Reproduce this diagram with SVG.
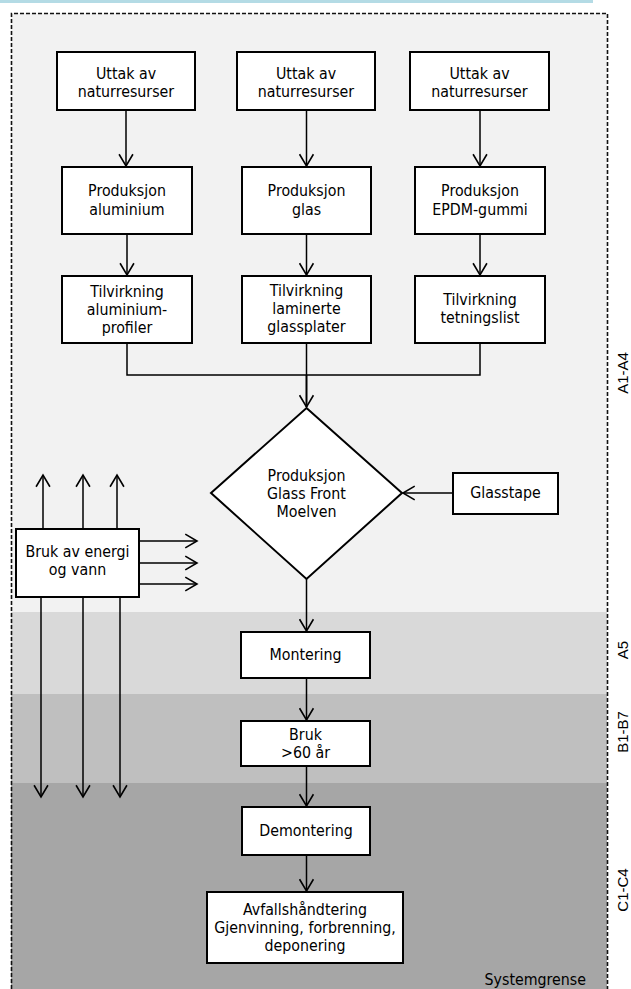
<svg xmlns="http://www.w3.org/2000/svg" width="631" height="989" viewBox="0 0 631 989">
<style>
.box{fill:#fff;stroke:#000;stroke-width:2}
.t{font-family:"DejaVu Sans Condensed","DejaVu Sans",sans-serif;font-stretch:condensed;font-size:15.8px;fill:#000;text-anchor:middle}
.lbl{font-family:"Liberation Sans",Arial,sans-serif;font-size:15px;fill:#000;text-anchor:middle}
.ln{fill:none;stroke:#000;stroke-width:1.5}
.ar{marker-end:url(#ah)}
</style>
<defs>
<marker id="ah" markerUnits="userSpaceOnUse" markerWidth="16" markerHeight="16" viewBox="-1 -1 14 15" refX="11" refY="6.5" orient="auto">
<path d="M0,0 L11,6.5 L0,13" fill="none" stroke="#000" stroke-width="1.5"/>
</marker>
</defs>
<g id="background">
<rect x="0" y="0" width="593" height="3" fill="#b4dbe5"/>
<rect x="11" y="13" width="596" height="599" fill="#f2f2f2"/>
<rect x="11" y="612" width="596" height="82" fill="#d9d9d9"/>
<rect x="11" y="694" width="596" height="89" fill="#bfbfbf"/>
<rect x="11" y="783" width="596" height="206" fill="#a6a6a6"/>
<path d="M11.5,989 V13.5 H607.5 V989" fill="none" stroke="#111" stroke-width="1.6" stroke-dasharray="4 2"/>
<text class="t" x="586" y="985" style="text-anchor:end">Systemgrense</text>
<text class="lbl" transform="translate(628,373) rotate(-90)">A1-A4</text>
<text class="lbl" transform="translate(628,650) rotate(-90)">A5</text>
<text class="lbl" transform="translate(628,732) rotate(-90)">B1-B7</text>
<text class="lbl" transform="translate(628,890) rotate(-90)">C1-C4</text>
</g>
<g id="connectors">
<line class="ln ar" x1="126" y1="110" x2="126" y2="166"/>
<line class="ln ar" x1="306.5" y1="110" x2="306.5" y2="166"/>
<line class="ln ar" x1="480" y1="110" x2="480" y2="166"/>
<line class="ln ar" x1="127" y1="234" x2="127" y2="275"/>
<line class="ln ar" x1="306.5" y1="234" x2="306.5" y2="275"/>
<line class="ln ar" x1="480" y1="234" x2="480" y2="275"/>
<path class="ln" d="M127,343 V375 H480 V343"/>
<line class="ln" x1="306.5" y1="343" x2="306.5" y2="375"/>
<line class="ar" x1="306.5" y1="375" x2="306.5" y2="407" stroke="#000" stroke-width="2"/>
<line class="ln ar" x1="453" y1="493" x2="403" y2="493"/>
<line class="ln ar" x1="306.5" y1="579" x2="306.5" y2="631"/>
<line class="ln ar" x1="306.5" y1="678" x2="306.5" y2="720"/>
<line class="ln ar" x1="306.5" y1="766" x2="306.5" y2="806"/>
<line class="ln ar" x1="306.5" y1="855" x2="306.5" y2="891"/>
<line class="ln ar" x1="43" y1="529" x2="43" y2="475"/>
<line class="ln ar" x1="83" y1="529" x2="83" y2="475"/>
<line class="ln ar" x1="117" y1="529" x2="117" y2="475"/>
<line class="ln ar" x1="139" y1="541" x2="197" y2="541"/>
<line class="ln ar" x1="139" y1="563" x2="197" y2="563"/>
<line class="ln ar" x1="139" y1="584" x2="197" y2="584"/>
<line class="ln ar" x1="41" y1="597" x2="41" y2="797"/>
<line class="ln ar" x1="83" y1="597" x2="83" y2="797"/>
<line class="ln ar" x1="120" y1="597" x2="120" y2="797"/>
</g>
<g id="uttak1"><rect class="box" x="57" y="52" width="138" height="58"/><text class="t" x="126" y="78.5">Uttak av</text><text class="t" x="126" y="96.5">naturresurser</text></g>
<g id="uttak2"><rect class="box" x="237" y="52" width="138" height="58"/><text class="t" x="306" y="78.5">Uttak av</text><text class="t" x="306" y="96.5">naturresurser</text></g>
<g id="uttak3"><rect class="box" x="410" y="52" width="139" height="58"/><text class="t" x="479.5" y="78.5">Uttak av</text><text class="t" x="479.5" y="96.5">naturresurser</text></g>
<g id="prod-alu"><rect class="box" x="62" y="167" width="130" height="67"/><text class="t" x="127" y="196">Produksjon</text><text class="t" x="127" y="214.5">aluminium</text></g>
<g id="prod-glas"><rect class="box" x="242" y="167" width="129" height="67"/><text class="t" x="306.5" y="196">Produksjon</text><text class="t" x="306.5" y="214.5">glas</text></g>
<g id="prod-epdm"><rect class="box" x="415" y="167" width="130" height="67"/><text class="t" x="480" y="196">Produksjon</text><text class="t" x="480" y="214.5">EPDM-gummi</text></g>
<g id="tilv-alu"><rect class="box" x="62" y="276" width="130" height="67"/><text class="t" x="127" y="297">Tilvirkning</text><text class="t" x="127" y="315">aluminium-</text><text class="t" x="127" y="333">profiler</text></g>
<g id="tilv-glas"><rect class="box" x="242" y="276" width="129" height="67"/><text class="t" x="306.5" y="296">Tilvirkning</text><text class="t" x="306.5" y="314">laminerte</text><text class="t" x="306.5" y="332">glassplater</text></g>
<g id="tilv-list"><rect class="box" x="415" y="276" width="130" height="67"/><text class="t" x="480" y="304.5">Tilvirkning</text><text class="t" x="480" y="322.5">tetningslist</text></g>
<g id="produksjon-gfm"><polygon class="box" points="306.5,408 402,493 306.5,579 211,493"/><text class="t" x="306.5" y="480.5">Produksjon</text><text class="t" x="306.5" y="498.5">Glass Front</text><text class="t" x="306.5" y="516.5">Moelven</text></g>
<g id="glasstape"><rect class="box" x="453" y="473" width="105" height="41"/><text class="t" x="505.5" y="498">Glasstape</text></g>
<g id="energi"><rect class="box" x="16" y="529" width="123" height="68"/><text class="t" x="77.5" y="556.5">Bruk av energi</text><text class="t" x="77.5" y="574.5">og vann</text></g>
<g id="montering"><rect class="box" x="241" y="632" width="129" height="46"/><text class="t" x="305.5" y="660">Montering</text></g>
<g id="bruk"><rect class="box" x="241" y="721" width="129" height="45"/><text class="t" x="305.5" y="740">Bruk</text><text class="t" x="305.5" y="758">&gt;60 år</text></g>
<g id="demontering"><rect class="box" x="242" y="807" width="128" height="48"/><text class="t" x="306" y="836">Demontering</text></g>
<g id="avfall"><rect class="box" x="207" y="892" width="196" height="71"/><text class="t" x="305" y="915">Avfallshåndtering</text><text class="t" x="305" y="933">Gjenvinning, forbrenning,</text><text class="t" x="305" y="951">deponering</text></g>
</svg>
